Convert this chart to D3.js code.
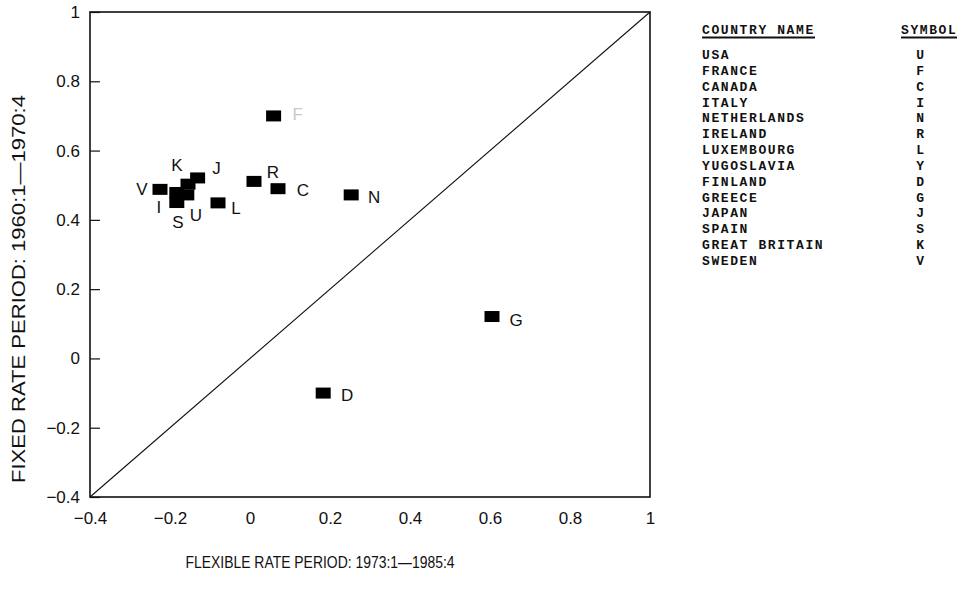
<!DOCTYPE html>
<html>
<head>
<meta charset="utf-8">
<script src="https://cdn.jsdelivr.net/npm/d3@7"></script>
<style>
  html, body { margin: 0; padding: 0; background: #fff; }
  svg { display: block; }
  .tick text { font-family: "Liberation Sans", Arial, sans-serif; font-size: 17px; fill: #111; }
</style>
</head>
<body>
<svg id="chart" width="958" height="592"></svg>
<script>
// Correlation in the fixed-rate period (y) vs the flexible-rate period (x)
const symbols = ["U", "F", "C", "I", "N", "R", "L", "D", "G", "J", "S", "K", "V"];
const flexValues = [-0.158, 0.059, 0.070, -0.183, 0.253, 0.010, -0.080, 0.183, 0.605, -0.131, -0.183, -0.155, -0.225];
const fixedValues = [0.472, 0.700, 0.490, 0.479, 0.472, 0.511, 0.449, -0.100, 0.121, 0.521, 0.450, 0.503, 0.488];

const xTicks = [-0.4, -0.2, 0, 0.2, 0.4, 0.6, 0.8, 1];
const yTicks = [-0.4, -0.2, 0, 0.2, 0.4, 0.6, 0.8, 1];

const countryNames = ["USA", "FRANCE", "CANADA", "ITALY", "NETHERLANDS", "IRELAND", "LUXEMBOURG",
  "YUGOSLAVIA", "FINLAND", "GREECE", "JAPAN", "SPAIN", "GREAT BRITAIN", "SWEDEN"];
const countrySymbols = ["U", "F", "C", "I", "N", "R", "L", "Y", "D", "G", "J", "S", "K", "V"];

const xTitle = "FLEXIBLE RATE PERIOD:  1973:1\u20141985:4";
const yTitle = "FIXED RATE PERIOD:  1960:1\u20141970:4";

const svg = d3.select("#chart");
const plotLeft = 90, plotRight = 650, plotTop = 12, plotBottom = 497;

const x = d3.scaleLinear().domain([-0.4, 1]).range([plotLeft, plotRight]);
const y = d3.scaleLinear().domain([-0.4, 1]).range([plotBottom, plotTop]);
const fmt = d => d3.format("")(d);

// axes
const gy = svg.append("g").attr("transform", `translate(${plotLeft},0)`)
  .call(d3.axisLeft(y).tickValues(yTicks).tickFormat(fmt).tickSizeInner(-10).tickSizeOuter(0).tickPadding(10));
gy.select(".domain").remove();
gy.selectAll(".tick line").attr("stroke", "#111").attr("stroke-width", 1.2);

const gx = svg.append("g").attr("transform", `translate(0,${plotBottom})`)
  .call(d3.axisBottom(x).tickValues(xTicks).tickFormat(fmt).tickSize(0).tickPadding(15));
gx.select(".domain").remove();

// frame
svg.append("rect")
  .attr("x", plotLeft).attr("y", plotTop)
  .attr("width", plotRight - plotLeft).attr("height", plotBottom - plotTop)
  .attr("fill", "none").attr("stroke", "#111").attr("stroke-width", 1.6);

// 45-degree reference line
svg.append("line")
  .attr("x1", x(-0.4)).attr("y1", y(-0.4))
  .attr("x2", x(1)).attr("y2", y(1))
  .attr("stroke", "#111").attr("stroke-width", 1.1);

// points
const pts = symbols.map((s, i) => ({ s, fx: flexValues[i], fy: fixedValues[i] }));
const rw = 15, rh = 11;
svg.append("g").selectAll("rect").data(pts).join("rect")
  .attr("x", d => x(d.fx) - rw / 2)
  .attr("y", d => y(d.fy) - rh / 2)
  .attr("width", rw).attr("height", rh)
  .attr("fill", "#000");

// label placement around each marker
const labelShift = {
  U: [9, 20], F: [24, -2], C: [25, 1], I: [-18, 14], N: [23, 2], R: [19, -10], L: [18, 5],
  D: [24, 2], G: [24, 3], J: [19, -10], S: [1, 19], K: [-11, -19], V: [-18, 0]
};
svg.append("g").selectAll("text").data(pts).join("text")
  .attr("x", d => x(d.fx) + labelShift[d.s][0])
  .attr("y", d => y(d.fy) + labelShift[d.s][1])
  .attr("text-anchor", "middle")
  .attr("dy", "0.36em")
  .attr("font-family", "Liberation Sans, Arial, sans-serif")
  .attr("font-size", 17)
  .attr("fill", d => d.s === "F" ? "#c8c8c8" : "#111")
  .text(d => d.s);

// axis titles
svg.append("text")
  .attr("x", 320).attr("y", 568)
  .attr("text-anchor", "middle")
  .attr("font-family", "Liberation Sans, Arial, sans-serif")
  .attr("font-size", 17).attr("fill", "#111")
  .attr("textLength", 269).attr("lengthAdjust", "spacingAndGlyphs")
  .text(xTitle);

svg.append("text")
  .attr("transform", "translate(25,289) rotate(-90)")
  .attr("text-anchor", "middle")
  .attr("font-family", "Liberation Sans, Arial, sans-serif")
  .attr("font-size", 18).attr("fill", "#111")
  .attr("textLength", 388).attr("lengthAdjust", "spacingAndGlyphs")
  .text(yTitle);

// country legend
const lg = svg.append("g")
  .attr("font-family", "Liberation Mono, Courier New, monospace")
  .attr("font-weight", "bold")
  .attr("font-size", 13)
  .attr("letter-spacing", 1.6)
  .attr("fill", "#111");

const headY = 34;
lg.append("text").attr("x", 702).attr("y", headY).text("COUNTRY NAME");
lg.append("text").attr("x", 901).attr("y", headY).text("SYMBOL");
lg.append("line").attr("x1", 702).attr("x2", 815).attr("y1", headY + 3.5).attr("y2", headY + 3.5)
  .attr("stroke", "#111").attr("stroke-width", 2.2);
lg.append("line").attr("x1", 901).attr("x2", 957).attr("y1", headY + 3.5).attr("y2", headY + 3.5)
  .attr("stroke", "#111").attr("stroke-width", 2.2);

const row = d3.scaleLinear().domain([0, countryNames.length - 1]).range([59, 265]);
lg.selectAll("text.name").data(countryNames).join("text").attr("class", "name")
  .attr("x", 702).attr("y", (d, i) => row(i)).text(d => d);
lg.selectAll("text.sym").data(countrySymbols).join("text").attr("class", "sym")
  .attr("x", 921).attr("y", (d, i) => row(i)).attr("text-anchor", "middle").text(d => d);
</script>
</body>
</html>
